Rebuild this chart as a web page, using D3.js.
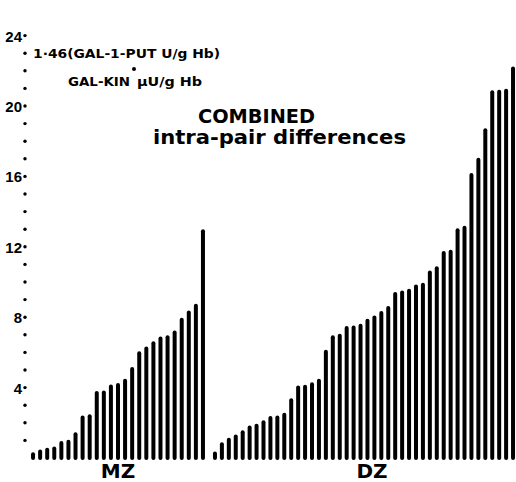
<!DOCTYPE html>
<html>
<head>
<meta charset="utf-8">
<script src="https://cdn.jsdelivr.net/npm/d3@7"></script>
<style>
  body { margin: 0; background: #fff; }
  svg { display: block; }
  .lbl { font-family: "DejaVu Sans", sans-serif; font-weight: bold; fill: #000; }
</style>
</head>
<body>
<div id="chart"></div>
<script>
// intra-pair differences
const mzValues = [0.33, 0.48, 0.58, 0.66, 0.96, 1.04, 1.47, 2.42, 2.48, 3.8, 3.84, 4.18, 4.26,
                  4.5, 5.17, 6.07, 6.34, 6.64, 6.9, 6.97, 7.25, 7.97, 8.38, 8.77, 13.0];
const dzValues = [0.37, 0.9, 1.15, 1.34, 1.57, 1.85, 1.95, 2.14, 2.38, 2.42, 2.57, 3.4, 4.12,
                  4.16, 4.31, 4.5, 6.15, 6.97, 7.06, 7.5, 7.53, 7.63, 7.91, 8.1, 8.35, 8.63,
                  9.43, 9.52, 9.62, 9.86, 9.96, 10.66, 10.89, 11.76, 11.83, 13.06, 13.2,
                  16.19, 17.06, 18.74, 20.9, 20.93, 20.98, 22.25];
const groups = ['MZ', 'DZ'];
const yTickValues = [4, 8, 12, 16, 20, 24];
const yDotValues = d3.range(1, 25);

const width = 516, height = 482;
const svg = d3.select('#chart').append('svg')
    .attr('width', width).attr('height', height);

const y = d3.scaleLinear().domain([0, 24]).range([458, 35.6]);

// one band scale per twin group
const xMZ = d3.scaleBand().domain(d3.range(mzValues.length)).range([29.5, 206.5]);
const xDZ = d3.scaleBand().domain(d3.range(dzValues.length)).range([211.5, 516.5]);
const barW = 4;

function drawBars(values, x, cls){
    svg.append('g').attr('class', cls)
        .selectAll('rect')
        .data(values).enter().append('rect')
        .attr('x', (d, i) => x(i) + x.bandwidth() / 2 - barW / 2)
        .attr('y', d => y(d))
        .attr('width', barW)
        .attr('height', d => y(0) + 2 - y(d))
        .attr('rx', 2)
        .attr('fill', '#000');
}
drawBars(mzValues, xMZ, 'mz');
drawBars(dzValues, xDZ, 'dz');

// y axis: labels every 4, dots every unit
const yAxis = d3.axisLeft(y).tickValues(yTickValues).tickSize(0).tickPadding(0);
const ga = svg.append('g').attr('transform', 'translate(22,0)').call(yAxis);
ga.select('.domain').remove();
ga.selectAll('text')
    .attr('font-family', '"Liberation Sans", Arial, sans-serif')
    .attr('font-weight', 'bold').attr('font-size', 15).attr('fill', '#000')
    .attr('dy', '0.36em');

svg.append('g').selectAll('circle')
    .data(yDotValues).enter().append('circle')
    .attr('cx', 25).attr('cy', d => y(d)).attr('r', 1.7).attr('fill', '#000');

// group labels
const groupX = [118, 372];
svg.append('g').selectAll('text')
    .data(groups).enter().append('text')
    .attr('class', 'lbl')
    .attr('x', (d, i) => groupX[i]).attr('y', 478)
    .attr('text-anchor', 'middle').attr('font-size', 20)
    .text(d => d);

// unit note
svg.append('text').attr('class', 'lbl')
    .attr('x', 33).attr('y', 58).attr('font-size', 13)
    .attr('textLength', 187).attr('lengthAdjust', 'spacingAndGlyphs')
    .text('1·46(GAL-1-PUT  U/g  Hb)');
svg.append('text').attr('class', 'lbl')
    .attr('x', 68).attr('y', 86).attr('font-size', 12)
    .attr('textLength', 62).attr('lengthAdjust', 'spacingAndGlyphs')
    .text('GAL-KIN');
svg.append('circle').attr('cx', 134).attr('cy', 69).attr('r', 2).attr('fill', '#000');
svg.append('text').attr('class', 'lbl')
    .attr('x', 137).attr('y', 86).attr('font-size', 12)
    .attr('textLength', 65).attr('lengthAdjust', 'spacingAndGlyphs')
    .text('μU/g  Hb');

// title
svg.append('text').attr('class', 'lbl')
    .attr('x', 198).attr('y', 123).attr('font-size', 20)
    .attr('textLength', 117).attr('lengthAdjust', 'spacingAndGlyphs')
    .text('COMBINED');
svg.append('text').attr('class', 'lbl')
    .attr('x', 153).attr('y', 144).attr('font-size', 20)
    .attr('textLength', 253).attr('lengthAdjust', 'spacingAndGlyphs')
    .text('intra-pair  differences');
</script>
</body>
</html>
